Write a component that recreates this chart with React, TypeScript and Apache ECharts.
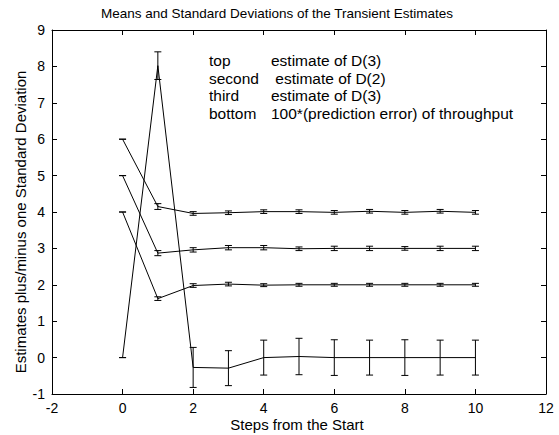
import React, { useEffect, useRef } from "react";
import * as echarts from "echarts";

const steps = [0, 1, 2, 3, 4, 5, 6, 7, 8, 9, 10];
const topMean = [6, 4.15, 3.96, 3.98, 4.01, 4.01, 3.99, 4.02, 3.99, 4.02, 3.99];
const topStd = [0, 0.08, 0.05, 0.05, 0.05, 0.05, 0.05, 0.05, 0.05, 0.05, 0.05];
const secondMean = [5, 2.87, 2.96, 3.02, 3.02, 2.99, 3.0, 3.0, 3.0, 3.0, 3.0];
const secondStd = [0, 0.07, 0.06, 0.06, 0.06, 0.05, 0.06, 0.06, 0.05, 0.06, 0.06];
const thirdMean = [4, 1.62, 1.98, 2.02, 1.99, 2.0, 2.0, 2.0, 2.0, 2.0, 2.0];
const thirdStd = [0, 0.05, 0.05, 0.05, 0.04, 0.04, 0.04, 0.04, 0.04, 0.04, 0.04];
const bottomMean = [0, 8.02, -0.27, -0.29, 0.0, 0.03, 0.0, 0.0, 0.0, 0.0, 0.0];
const bottomStd = [0, 0.38, 0.55, 0.48, 0.48, 0.5, 0.49, 0.48, 0.49, 0.48, 0.48];

const legendLabels = ["top", "second", "third", "bottom"];
const legendTexts = [
  "estimate of D(3)",
  " estimate of D(2)",
  "estimate of D(3)",
  "100*(prediction error) of throughput",
];

const titleText = "Means and Standard Deviations of the Transient Estimates";
const xTitle = "Steps from the Start";
const yTitle = "Estimates plus/minus one Standard Deviation";

const FONT = "'Liberation Sans', Arial, sans-serif";

function lineSeries(means: number[]) {
  return {
    type: "line",
    data: steps.map((s, i) => [s, means[i]]),
    showSymbol: false,
    symbol: "none",
    lineStyle: { color: "#000", width: 1 },
    silent: true,
    z: 3,
  };
}

function errSeries(means: number[], stds: number[]) {
  return {
    type: "custom",
    data: steps.map((s, i) => [s, means[i] - stds[i], means[i] + stds[i]]),
    renderItem: (params: any, api: any) => {
      const x = api.value(0);
      const lo = api.coord([x, api.value(1)]);
      const hi = api.coord([x, api.value(2)]);
      const w = 3.5;
      const st = { stroke: "#000", lineWidth: 1 };
      return {
        type: "group",
        children: [
          { type: "line", shape: { x1: lo[0], y1: lo[1], x2: hi[0], y2: hi[1] }, style: st },
          { type: "line", shape: { x1: lo[0] - w, y1: lo[1], x2: lo[0] + w, y2: lo[1] }, style: st },
          { type: "line", shape: { x1: hi[0] - w, y1: hi[1], x2: hi[0] + w, y2: hi[1] }, style: st },
        ],
      };
    },
    silent: true,
    z: 4,
  };
}

export default function App() {
  const ref = useRef<HTMLDivElement>(null);
  useEffect(() => {
    if (!ref.current) return;
    const chart = echarts.init(ref.current, undefined, { renderer: "svg" });
    const axisCommon = {
      axisLine: { show: true, onZero: false, lineStyle: { color: "#000", width: 1 } },
      axisTick: { show: true, inside: true, length: 5, lineStyle: { color: "#000" } },
      splitLine: { show: false },
    };
    const rowY = [60, 78, 95.5, 113];
    const graphics: any[] = [];
    legendLabels.forEach((l, i) => {
      graphics.push({
        type: "text",
        x: 209,
        y: rowY[i],
        style: { text: l, font: `15.5px ${FONT}`, fill: "#000", textVerticalAlign: "middle" },
      });
      graphics.push({
        type: "text",
        x: 271,
        y: rowY[i],
        style: { text: legendTexts[i], font: `15.5px ${FONT}`, fill: "#000", textVerticalAlign: "middle" },
      });
    });
    graphics.push({
      type: "text",
      x: 277,
      y: 13,
      style: {
        text: titleText,
        font: `13.5px ${FONT}`,
        fill: "#000",
        textAlign: "center",
        textVerticalAlign: "middle",
      },
    });
    graphics.push({
      type: "text",
      x: 297,
      y: 424,
      style: {
        text: xTitle,
        font: `15px ${FONT}`,
        fill: "#000",
        textAlign: "center",
        textVerticalAlign: "middle",
      },
    });
    graphics.push({
      type: "text",
      x: 20,
      y: 222,
      rotation: Math.PI / 2,
      style: {
        text: yTitle,
        font: `15px ${FONT}`,
        fill: "#000",
        textAlign: "center",
        textVerticalAlign: "middle",
      },
    });
    chart.setOption({
      animation: false,
      backgroundColor: "#fff",
      textStyle: { fontFamily: FONT },
      grid: { left: 52, right: 13, top: 30, bottom: 41, containLabel: false },
      xAxis: [
        {
          type: "value",
          min: -2,
          max: 12,
          interval: 2,
          position: "bottom",
          ...axisCommon,
          axisLabel: { color: "#000", fontSize: 14, margin: 7, fontFamily: FONT },
        },
        {
          type: "value",
          min: -2,
          max: 12,
          interval: 2,
          position: "top",
          ...axisCommon,
          axisLabel: { show: false },
        },
      ],
      yAxis: [
        {
          type: "value",
          min: -1,
          max: 9,
          interval: 1,
          position: "left",
          ...axisCommon,
          axisLabel: { color: "#000", fontSize: 14, margin: 7, fontFamily: FONT },
        },
        {
          type: "value",
          min: -1,
          max: 9,
          interval: 1,
          position: "right",
          ...axisCommon,
          axisLabel: { show: false },
        },
      ],
      series: [
        lineSeries(topMean),
        errSeries(topMean, topStd),
        lineSeries(secondMean),
        errSeries(secondMean, secondStd),
        lineSeries(thirdMean),
        errSeries(thirdMean, thirdStd),
        lineSeries(bottomMean),
        errSeries(bottomMean, bottomStd),
      ],
      graphic: graphics,
    });
    return () => chart.dispose();
  }, []);
  return <div ref={ref} style={{ width: 559, height: 435, position: "absolute", left: 0, top: 0 }} />;
}
